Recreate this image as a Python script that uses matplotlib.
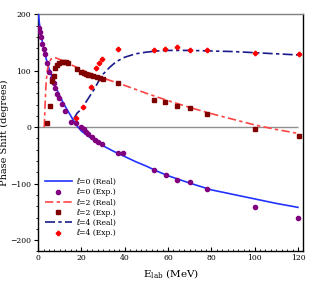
import matplotlib
matplotlib.use("Agg")
import matplotlib.pyplot as plt
from matplotlib.ticker import MultipleLocator

plt.rcParams['font.family'] = ['DejaVu Serif', 'DejaVu Sans']

# l=0 real curve
l0_real_x = [0.2, 0.5, 1, 2, 3, 4, 5, 6, 8, 10, 12, 14, 16, 18, 20, 25, 30, 35, 40, 45, 50, 55, 60, 70, 80, 90, 100, 110, 120]
l0_real_y = [200, 186, 172, 150, 132, 117, 104, 94, 72, 55, 40, 27, 14, 2, -7, -21, -33, -43, -52, -61, -69, -78, -86, -99, -111, -119, -127, -135, -142]
# l=0 experimental
l0_exp_x = [0.5, 0.9, 1.4, 2, 2.5, 3, 3.9, 5.1, 6.2, 7.1, 7.7, 8.8, 9.7, 10.8, 12.5, 15.2, 17.3, 20, 21, 22, 23.1, 24.7, 26.2, 27.7, 29.3, 37, 39, 53.6, 58.9, 64.2, 70.1, 78, 100, 120]
l0_exp_y = [175, 169, 159, 147, 138, 129, 114, 98, 88, 78, 70, 59, 51, 41, 29, 10, 7, 0, -3, -8, -12, -18, -22, -27, -30, -45, -46, -76, -84, -93, -97, -109, -141, -161]
# l=2 real curve
l2_real_x = [2.8, 3.0, 3.3, 3.7, 4.2, 5, 6, 7, 8, 10, 12, 15, 20, 25, 30, 40, 50, 60, 70, 80, 90, 100, 110, 120]
l2_real_y = [0, 20, 50, 80, 100, 114, 121, 123, 123, 120, 117, 111, 102, 94, 87, 74, 60, 47, 35, 24, 14, 4, -4, -11]
# l=2 experimental
l2_exp_x = [3.9, 5.4, 6.5, 7.3, 8, 8.8, 9.7, 10.8, 11.8, 12.8, 14, 18, 20, 21, 22, 23, 24, 25.4, 27, 28.5, 30, 37, 53.3, 58.8, 64.2, 70.1, 78, 100, 120.3]
l2_exp_y = [7, 38, 81, 91, 104, 111, 114, 116, 116, 115, 114, 103, 98, 96, 95, 93, 92, 90, 89, 87, 86, 78, 48, 45, 37.5, 33.5, 23, -4, -16]
# l=4 real curve
l4_real_x = [16.5, 18, 20, 22, 24, 26, 28, 30, 33, 36, 40, 45, 50, 55, 60, 70, 80, 90, 100, 110, 120]
l4_real_y = [15, 25, 32, 44, 56, 68, 82, 94, 106, 116, 124, 130, 133, 135, 136, 136, 135, 134, 132, 130, 128]
# l=4 experimental
l4_exp_x = [17.7, 20.9, 24.2, 26.9, 28.3, 29.7, 37, 53.3, 58.8, 64.2, 70.1, 77.9, 100, 120.3]
l4_exp_y = [16, 35, 71, 104, 114, 120, 138, 137, 138, 142, 136, 136, 132, 130]

fig = plt.figure(figsize=(3.18, 2.86), dpi=100)
ax = fig.add_axes([0.120, 0.121, 0.834, 0.829])

ax.hlines(0, 0, 120, color='#909090', lw=1.0, zorder=1)

ax.plot(l0_real_x, l0_real_y, color='#2233ff', lw=1.2, label='ℓ=0 (Real)', zorder=3)
ax.plot(l0_exp_x, l0_exp_y, 'o', color='#800080', ms=3, label='ℓ=0 (Exp.)', zorder=4)
ax.plot(l2_real_x, l2_real_y, color='#ff4444', lw=1.2, ls=(0, (5, 2, 2, 2)), label='ℓ=2 (Real)', zorder=3)
ax.plot(l2_exp_x, l2_exp_y, 's', color='#800000', ms=3.5, label='ℓ=2 (Exp.)', zorder=4)
ax.plot(l4_real_x, l4_real_y, color='#1a1a8c', lw=1.2, ls=(0, (6, 2, 2, 2)), label='ℓ=4 (Real)', zorder=3)
ax.plot(l4_exp_x, l4_exp_y, 'P', color='#ff0000', ms=3, label='ℓ=4 (Exp.)', zorder=4)

ax.set_xlim(0, 122.5)
ax.set_ylim(-220, 200)
ax.xaxis.set_major_locator(MultipleLocator(20))
ax.xaxis.set_minor_locator(MultipleLocator(2.5))
ax.yaxis.set_major_locator(MultipleLocator(100))
ax.yaxis.set_minor_locator(MultipleLocator(20))
ax.tick_params(labelsize=5.5, length=3, width=0.8, pad=2)
ax.tick_params(which='minor', length=1.5, width=0.6)
ax.tick_params(axis='x', which='both', direction='in')

ax.spines['top'].set_color('#808080')
ax.spines['top'].set_linewidth(1.0)
for s in ['left', 'bottom', 'right']:
    ax.spines[s].set_linewidth(1.0)

ax.set_xlabel('E$_\\mathregular{lab}$ (MeV)', fontsize=7.5, labelpad=4)
ax.set_ylabel('Phase Shift (degrees)', fontsize=7, labelpad=1)

ax.legend(loc='lower left', bbox_to_anchor=(0.0, 0.03), frameon=False, fontsize=5.5,
          handlelength=3.5, labelspacing=0.3, borderpad=0.4, handletextpad=0.6)

fig.savefig('out.png', dpi=100)
